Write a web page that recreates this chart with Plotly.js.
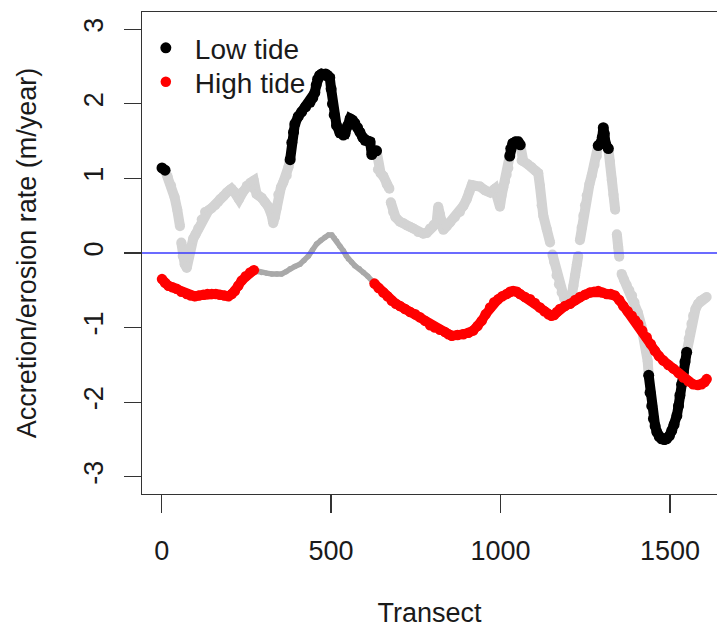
<!DOCTYPE html>
<html>
<head>
<meta charset="utf-8">
<script src="https://cdn.plot.ly/plotly-3.0.1.min.js"></script>
<style>html,body{margin:0;padding:0;background:#fff;}#chart{width:717px;height:628px;}</style>
</head>
<body>
<div id="chart"></div>
<script>
// ---------- data ----------
// Low tide: transect, rate (m/year), significant flag (1 = black, 0 = grey); null = gap
const lowT = [1,10,18,28,38,46,54,57,58,62,68,74,80,86,93,100,108,118,128,138,147,158,166,172,182,192,200,206,214,228,240,251,262,272,274,280,295,305,315,325,329,334,339,344,352,359,369,374,
  379,384,389,393,403,413,425,438,446,452,456,460,466,472,478,484,490,496,500,504,509,516,526,536,541,548,556,563,570,578,585,593,600,608,615,620,626,634,
  638,646,654,664,672,674,676,683,690,703,713,723,733,742,757,772,782,792,803,811,816,821,826,831,841,851,865,880,890,900,908,915,925,939,954,969,983,993,998,1003,1008,1013,1018,1023,
  1027,1030,1036,1044,1052,1058,
  1062,1067,1080,1092,1104,1111,1116,1121,1126,1136,1146,1150,1153,1158,1165,1172,1180,1188,1195,1203,1210,1215,1220,1225,1229,1231,1234,1239,1244,1249,1254,1262,1269,1277,1284,
  1288,1295,1300,1303,1306,1310,1318,
  1323,1328,1333,1338,1340,1343,1347,1350,1353,1357,1364,1372,1380,1388,1395,1405,1415,1423,1431,1434,
  1437,1441,1446,1451,1456,1461,1468,1475,1483,1490,1498,1505,1512,1520,1525,1529,1534,1539,1544,1549,
  1555,1559,1563,1568,1575,1583,1590,1598,1608];
const lowV = [1.14,1.11,1.02,0.90,0.75,0.58,0.36,null,0.14,-0.04,-0.15,-0.20,-0.05,0.08,0.19,0.25,0.33,0.45,0.55,0.57,0.60,0.64,0.68,0.72,0.76,0.81,0.84,0.86,0.82,0.72,0.82,0.90,0.94,0.97,0.85,0.79,0.74,0.68,0.62,0.50,0.40,0.48,0.60,0.78,0.88,0.95,1.04,1.15,
  1.25,1.48,1.62,1.73,1.83,1.89,1.96,2.02,2.08,2.15,2.25,2.33,2.38,2.40,2.39,2.40,2.38,2.35,2.20,2.00,1.85,1.71,1.61,1.58,1.60,1.70,1.80,1.78,1.74,1.68,1.62,1.55,1.51,1.50,1.49,1.32,1.36,1.37,
  1.12,1.07,1.03,0.92,0.86,null,0.68,0.55,0.48,0.42,0.40,0.37,0.35,0.33,0.28,0.26,0.27,0.33,0.38,0.40,0.62,0.52,0.44,0.31,0.36,0.41,0.48,0.55,0.63,0.72,0.82,0.91,0.90,0.89,0.84,0.81,0.86,0.75,0.62,0.77,0.88,0.96,1.05,1.14,
  1.30,1.40,1.47,1.49,1.49,1.45,
  1.24,1.23,1.19,1.15,1.10,1.07,0.90,0.64,0.50,0.32,0.14,null,-0.02,-0.12,-0.30,-0.42,-0.53,-0.61,-0.66,-0.64,-0.57,-0.44,-0.30,-0.15,-0.04,null,0.17,0.34,0.50,0.64,0.77,0.92,1.04,1.18,1.30,
  1.44,1.47,1.55,1.68,1.60,1.46,1.40,
  1.22,0.98,0.78,0.58,null,0.25,0.08,-0.05,null,-0.28,-0.36,-0.43,-0.50,-0.57,-0.66,-0.80,-0.97,-1.13,-1.33,-1.45,
  -1.64,-1.87,-2.05,-2.22,-2.32,-2.40,-2.46,-2.49,-2.50,-2.49,-2.45,-2.38,-2.30,-2.18,-2.05,-1.91,-1.76,-1.60,-1.46,-1.33,
  -1.15,-1.06,-0.95,-0.84,-0.75,-0.68,-0.64,-0.62,-0.59];
const lowSig = [1,1,0,0,0,0,0,0,0,0,0,0,0,0,0,0,0,0,0,0,0,0,0,0,0,0,0,0,0,0,0,0,0,0,0,0,0,0,0,0,0,0,0,0,0,0,0,0,
  1,1,1,1,1,1,1,1,1,1,1,1,1,1,1,1,1,1,1,1,1,1,1,1,1,1,1,1,1,1,1,1,1,1,1,1,1,1,
  0,0,0,0,0,0,0,0,0,0,0,0,0,0,0,0,0,0,0,0,0,0,0,0,0,0,0,0,0,0,0,0,0,0,0,0,0,0,0,0,0,0,0,0,
  1,1,1,1,1,1,
  0,0,0,0,0,0,0,0,0,0,0,0,0,0,0,0,0,0,0,0,0,0,0,0,0,0,0,0,0,0,0,0,0,0,0,
  1,1,1,1,1,1,1,
  0,0,0,0,0,0,0,0,0,0,0,0,0,0,0,0,0,0,0,0,
  1,1,1,1,1,1,1,1,1,1,1,1,1,1,1,1,1,1,1,1,
  0,0,0,0,0,0,0,0,0];

// High tide: transect, rate (m/year), significant flag (1 = red, 0 = grey)
const highT = [1,10,20,32,44,58,74,86,98,110,123,135,148,160,172,185,197,207,216,226,236,248,261,272,
  285,295,310,325,340,354,367,379,393,408,420,433,445,457,470,482,492,502,509,516,526,536,545,551,560,570,583,595,608,620,
  628,640,654,666,679,691,703,718,733,748,762,777,792,806,821,836,846,856,873,890,905,919,932,944,956,969,981,993,1005,1018,1028,1037,1048,1057,1072,1087,1101,1116,1129,1141,1150,1158,1166,1175,1190,1205,1220,1234,1249,1264,1276,1288,1300,1313,1325,1337,1350,1362,1375,1387,1397,1406,1418,1431,1443,1455,1467,1480,1495,1510,1525,1539,1554,1568,1582,1593,1602,1608];
const highV = [-0.35,-0.40,-0.44,-0.46,-0.48,-0.52,-0.55,-0.57,-0.58,-0.57,-0.56,-0.55,-0.55,-0.55,-0.56,-0.57,-0.58,-0.55,-0.51,-0.44,-0.37,-0.31,-0.26,-0.23,
  -0.25,-0.26,-0.27,-0.28,-0.28,-0.28,-0.25,-0.21,-0.18,-0.15,-0.10,-0.04,0.04,0.12,0.17,0.21,0.24,0.24,0.20,0.16,0.09,0.03,-0.04,-0.08,-0.12,-0.17,-0.21,-0.26,-0.31,-0.37,
  -0.41,-0.47,-0.53,-0.58,-0.64,-0.68,-0.71,-0.75,-0.79,-0.82,-0.86,-0.91,-0.97,-1.00,-1.03,-1.06,-1.09,-1.11,-1.10,-1.09,-1.07,-1.04,-0.98,-0.91,-0.82,-0.73,-0.66,-0.62,-0.58,-0.55,-0.52,-0.51,-0.52,-0.55,-0.59,-0.62,-0.67,-0.73,-0.78,-0.82,-0.84,-0.83,-0.79,-0.75,-0.71,-0.68,-0.63,-0.59,-0.56,-0.53,-0.52,-0.51,-0.53,-0.55,-0.55,-0.57,-0.63,-0.71,-0.78,-0.84,-0.90,-0.95,-1.04,-1.13,-1.22,-1.31,-1.38,-1.44,-1.50,-1.55,-1.61,-1.67,-1.72,-1.76,-1.77,-1.76,-1.73,-1.69];
const highSig = [1,1,1,1,1,1,1,1,1,1,1,1,1,1,1,1,1,1,1,1,1,1,1,1,
  0,0,0,0,0,0,0,0,0,0,0,0,0,0,0,0,0,0,0,0,0,0,0,0,0,0,0,0,0,0,
  1,1,1,1,1,1,1,1,1,1,1,1,1,1,1,1,1,1,1,1,1,1,1,1,1,1,1,1,1,1,1,1,1,1,1,1,1,1,1,1,1,1,1,1,1,1,1,1,1,1,1,1,1,1,1,1,1,1,1,1,1,1,1,1,1,1,1,1,1,1,1,1,1,1,1,1,1,1,1,1];

const seriesNames = ['Low tide', 'High tide'];
const xTickVals = [0, 500, 1000, 1500];
const xTickText = ['0', '500', '1000', '1500'];
const yTickVals = [-3, -2, -1, 0, 1, 2, 3];
const yTickText = ['-3', '-2', '-1', '0', '1', '2', '3'];
const refLine = 0;

// ---------- build traces ----------
function pick(T, V, S, cls, extend) {
  const x = [], y = [];
  for (let i = 0; i < T.length; i++) {
    let keep = S[i] === cls;
    if (!keep && extend) {
      keep = (i > 0 && S[i - 1] === cls && V[i - 1] !== null) ||
             (i < T.length - 1 && S[i + 1] === cls && V[i + 1] !== null);
    }
    x.push(T[i]);
    y.push(keep ? V[i] : null);
  }
  return { x, y };
}

const lowGrey = pick(lowT, lowV, lowSig, 0, true);
const lowSigPts = pick(lowT, lowV, lowSig, 1, false);
const highGrey = pick(highT, highV, highSig, 0, true);
const highSigPts = pick(highT, highV, highSig, 1, false);

const traces = [
  { x: lowGrey.x, y: lowGrey.y, mode: 'lines+markers', connectgaps: false, showlegend: false, hoverinfo: 'skip',
    line: { color: '#d3d3d3', width: 10 }, marker: { color: '#d3d3d3', size: 10 } },
  { x: lowSigPts.x, y: lowSigPts.y, mode: 'lines', connectgaps: false, showlegend: false, hoverinfo: 'skip',
    line: { color: '#000000', width: 10 } },
  { x: lowSigPts.x, y: lowSigPts.y, mode: 'markers', name: seriesNames[0], showlegend: true, legend: 'legend',
    marker: { color: '#000000', size: 11 } },
  { x: highGrey.x, y: highGrey.y, mode: 'lines+markers', connectgaps: false, showlegend: false, hoverinfo: 'skip',
    line: { color: '#a9a9a9', width: 5.5 }, marker: { color: '#a9a9a9', size: 5.5 } },
  { x: highSigPts.x, y: highSigPts.y, mode: 'lines', connectgaps: false, showlegend: false, hoverinfo: 'skip',
    line: { color: '#ff0000', width: 9.5 } },
  { x: highSigPts.x, y: highSigPts.y, mode: 'markers', name: seriesNames[1], showlegend: true, legend: 'legend2',
    marker: { color: '#ff0000', size: 10.5 } }
];

const axisFont = { family: 'Liberation Sans, Arial, sans-serif', size: 27, color: '#1a1a1a' };
const legendFont = { family: 'Liberation Sans, Arial, sans-serif', size: 28, color: '#1a1a1a' };

const layout = {
  width: 717, height: 628,
  margin: { l: 142, r: 0, t: 12, b: 134, pad: 0 },
  paper_bgcolor: '#ffffff', plot_bgcolor: '#ffffff',
  font: axisFont,
  showlegend: true,
  legend: { x: -0.009, xanchor: 'left', y: 0.977, yanchor: 'top', bgcolor: 'rgba(0,0,0,0)',
            font: legendFont, itemwidth: 48 },
  legend2: { x: -0.009, xanchor: 'left', y: 0.9066, yanchor: 'top', bgcolor: 'rgba(0,0,0,0)',
             font: legendFont, itemwidth: 48 },
  xaxis: {
    range: [-58, 1638.5], tickmode: 'array', tickvals: xTickVals, ticktext: xTickText,
    ticks: 'outside', ticklen: 18, tickwidth: 1.3, tickcolor: '#333333',
    showline: true, linecolor: '#333333', linewidth: 1.3, mirror: true,
    showgrid: false, zeroline: false, tickfont: axisFont, ticklabelstandoff: 14,
    title: { text: 'Transect', font: axisFont, standoff: 38 }
  },
  yaxis: {
    range: [-3.23, 3.23], tickmode: 'array', tickvals: yTickVals, ticktext: yTickText, tickangle: -90,
    ticks: 'outside', ticklen: 17, tickwidth: 1.3, tickcolor: '#333333',
    showline: true, linecolor: '#333333', linewidth: 1.3, mirror: false,
    showgrid: false, zeroline: false, tickfont: axisFont, ticklabelstandoff: 10,
    title: { text: 'Accretion/erosion rate (m/year)', font: axisFont, standoff: 34 }
  },
  shapes: [
    { type: 'line', xref: 'paper', x0: 0, x1: 1, yref: 'y', y0: refLine, y1: refLine,
      line: { color: '#3a3aff', width: 1.6 }, layer: 'above' }
  ]
};

Plotly.newPlot('chart', traces, layout, { displayModeBar: false, staticPlot: true });
</script>
</body>
</html>
